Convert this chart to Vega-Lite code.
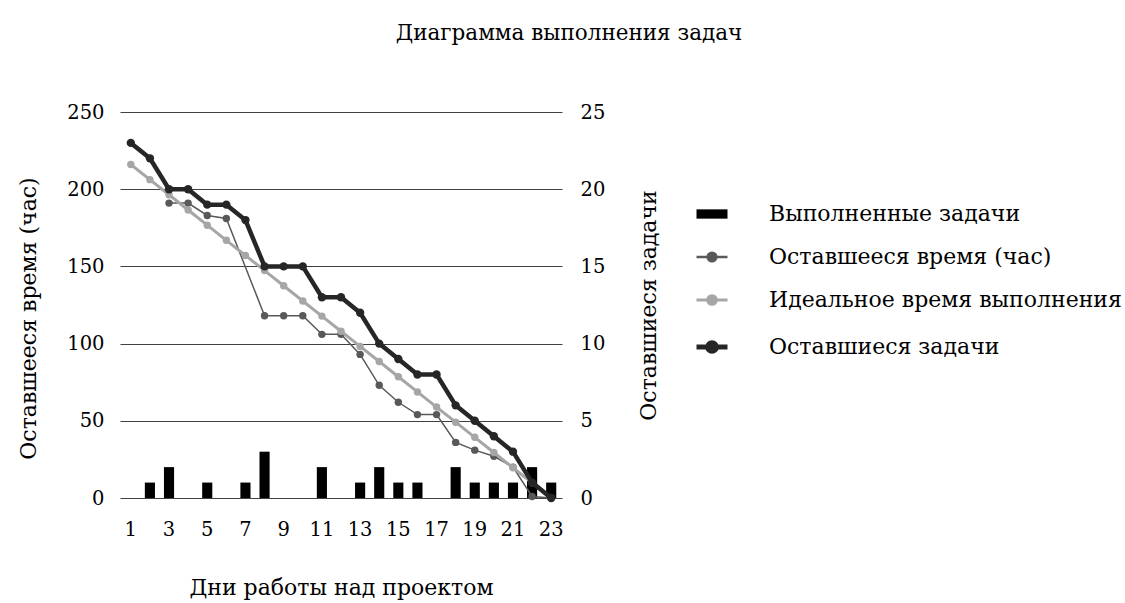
{
  "$schema": "https://vega.github.io/schema/vega-lite/v6.json",
  "width": 442,
  "height": 386,
  "autosize": {"type": "none"},
  "padding": {"left": 120, "top": 112, "right": 563, "bottom": 105},
  "background": "white",
  "config": {
    "font": "DejaVu Serif",
    "view": {"stroke": null},
    "axis": {"labelFont": "DejaVu Serif", "titleFont": "DejaVu Serif", "labelColor": "black", "titleColor": "black", "labelFontSize": 19.5, "titleFontSize": 22, "titleFontWeight": "normal", "ticks": false, "domain": false},
    "legend": {"labelFont": "DejaVu Serif"},
    "title": {"font": "DejaVu Serif"}
  },
  "title": {"text": "Диаграмма выполнения задач", "fontSize": 21.5, "fontWeight": "normal", "anchor": "middle", "frame": "group", "dx": 228, "offset": 58, "color": "black"},
  "data": {"values": [
    {"day": 2, "series": "Выполненные задачи", "value": 1},
    {"day": 3, "series": "Выполненные задачи", "value": 2},
    {"day": 5, "series": "Выполненные задачи", "value": 1},
    {"day": 7, "series": "Выполненные задачи", "value": 1},
    {"day": 8, "series": "Выполненные задачи", "value": 3},
    {"day": 11, "series": "Выполненные задачи", "value": 2},
    {"day": 13, "series": "Выполненные задачи", "value": 1},
    {"day": 14, "series": "Выполненные задачи", "value": 2},
    {"day": 15, "series": "Выполненные задачи", "value": 1},
    {"day": 16, "series": "Выполненные задачи", "value": 1},
    {"day": 18, "series": "Выполненные задачи", "value": 2},
    {"day": 19, "series": "Выполненные задачи", "value": 1},
    {"day": 20, "series": "Выполненные задачи", "value": 1},
    {"day": 21, "series": "Выполненные задачи", "value": 1},
    {"day": 22, "series": "Выполненные задачи", "value": 2},
    {"day": 23, "series": "Выполненные задачи", "value": 1},

    {"day": 3, "series": "Оставшееся время (час)", "value": 191},
    {"day": 4, "series": "Оставшееся время (час)", "value": 191},
    {"day": 5, "series": "Оставшееся время (час)", "value": 183},
    {"day": 6, "series": "Оставшееся время (час)", "value": 181},
    {"day": 8, "series": "Оставшееся время (час)", "value": 118},
    {"day": 9, "series": "Оставшееся время (час)", "value": 118},
    {"day": 10, "series": "Оставшееся время (час)", "value": 118},
    {"day": 11, "series": "Оставшееся время (час)", "value": 106},
    {"day": 12, "series": "Оставшееся время (час)", "value": 106},
    {"day": 13, "series": "Оставшееся время (час)", "value": 93},
    {"day": 14, "series": "Оставшееся время (час)", "value": 73},
    {"day": 15, "series": "Оставшееся время (час)", "value": 62},
    {"day": 16, "series": "Оставшееся время (час)", "value": 54},
    {"day": 17, "series": "Оставшееся время (час)", "value": 54},
    {"day": 18, "series": "Оставшееся время (час)", "value": 36},
    {"day": 19, "series": "Оставшееся время (час)", "value": 31},
    {"day": 20, "series": "Оставшееся время (час)", "value": 27},
    {"day": 21, "series": "Оставшееся время (час)", "value": 20},
    {"day": 22, "series": "Оставшееся время (час)", "value": 1},
    {"day": 23, "series": "Оставшееся время (час)", "value": 0},

    {"day": 1, "series": "Идеальное время выполнения", "value": 216},
    {"day": 2, "series": "Идеальное время выполнения", "value": 206.2},
    {"day": 3, "series": "Идеальное время выполнения", "value": 196.4},
    {"day": 4, "series": "Идеальное время выполнения", "value": 186.5},
    {"day": 5, "series": "Идеальное время выполнения", "value": 176.7},
    {"day": 6, "series": "Идеальное время выполнения", "value": 166.9},
    {"day": 7, "series": "Идеальное время выполнения", "value": 157.1},
    {"day": 8, "series": "Идеальное время выполнения", "value": 147.3},
    {"day": 9, "series": "Идеальное время выполнения", "value": 137.5},
    {"day": 10, "series": "Идеальное время выполнения", "value": 127.6},
    {"day": 11, "series": "Идеальное время выполнения", "value": 117.8},
    {"day": 12, "series": "Идеальное время выполнения", "value": 108},
    {"day": 13, "series": "Идеальное время выполнения", "value": 98.2},
    {"day": 14, "series": "Идеальное время выполнения", "value": 88.4},
    {"day": 15, "series": "Идеальное время выполнения", "value": 78.5},
    {"day": 16, "series": "Идеальное время выполнения", "value": 68.7},
    {"day": 17, "series": "Идеальное время выполнения", "value": 58.9},
    {"day": 18, "series": "Идеальное время выполнения", "value": 49.1},
    {"day": 19, "series": "Идеальное время выполнения", "value": 39.3},
    {"day": 20, "series": "Идеальное время выполнения", "value": 29.5},
    {"day": 21, "series": "Идеальное время выполнения", "value": 19.6},
    {"day": 22, "series": "Идеальное время выполнения", "value": 9.8},
    {"day": 23, "series": "Идеальное время выполнения", "value": 0},

    {"day": 1, "series": "Оставшиеся задачи", "value": 23},
    {"day": 2, "series": "Оставшиеся задачи", "value": 22},
    {"day": 3, "series": "Оставшиеся задачи", "value": 20},
    {"day": 4, "series": "Оставшиеся задачи", "value": 20},
    {"day": 5, "series": "Оставшиеся задачи", "value": 19},
    {"day": 6, "series": "Оставшиеся задачи", "value": 19},
    {"day": 7, "series": "Оставшиеся задачи", "value": 18},
    {"day": 8, "series": "Оставшиеся задачи", "value": 15},
    {"day": 9, "series": "Оставшиеся задачи", "value": 15},
    {"day": 10, "series": "Оставшиеся задачи", "value": 15},
    {"day": 11, "series": "Оставшиеся задачи", "value": 13},
    {"day": 12, "series": "Оставшиеся задачи", "value": 13},
    {"day": 13, "series": "Оставшиеся задачи", "value": 12},
    {"day": 14, "series": "Оставшиеся задачи", "value": 10},
    {"day": 15, "series": "Оставшиеся задачи", "value": 9},
    {"day": 16, "series": "Оставшиеся задачи", "value": 8},
    {"day": 17, "series": "Оставшиеся задачи", "value": 8},
    {"day": 18, "series": "Оставшиеся задачи", "value": 6},
    {"day": 19, "series": "Оставшиеся задачи", "value": 5},
    {"day": 20, "series": "Оставшиеся задачи", "value": 4},
    {"day": 21, "series": "Оставшиеся задачи", "value": 3},
    {"day": 22, "series": "Оставшиеся задачи", "value": 1},
    {"day": 23, "series": "Оставшиеся задачи", "value": 0}
  ]},
  "encoding": {
    "x": {
      "field": "day", "type": "ordinal",
      "scale": {"domain": [1,2,3,4,5,6,7,8,9,10,11,12,13,14,15,16,17,18,19,20,21,22,23], "paddingInner": 0.47, "paddingOuter": 0.3},
      "axis": {"title": "Дни работы над проектом", "titleFontSize": 22, "labelAngle": 0, "labelExpr": "datum.value % 2 == 1 ? datum.label : ''", "grid": false, "labelPadding": 22, "titlePadding": 39}
    },
    "color": {
      "field": "series", "type": "nominal",
      "scale": {"domain": ["Выполненные задачи", "Оставшееся время (час)", "Идеальное время выполнения", "Оставшиеся задачи"], "range": ["#000000", "#595959", "#a6a6a6", "#262626"]},
      "legend": {
        "orient": "none", "legendX": 581, "legendY": 91, "title": null,
        "labelFontSize": 22, "labelColor": "black", "labelLimit": 500,
        "symbolSize": 961, "labelOffset": 46, "rowPadding": 21,
        "encode": {"symbols": {"update": {
          "shape": {"signal": "datum.value === 'Выполненные задачи' ? 'M-1,-0.3L1,-0.3L1,0.3L-1,0.3Z' : 'M-1,0L1,0M-0.28,0A0.28,0.28 0 1 0 0.28,0A0.28,0.28 0 1 0 -0.28,0Z'"},
          "fill": {"signal": "datum.value === 'Выполненные задачи' ? '#000000' : datum.value === 'Оставшееся время (час)' ? '#595959' : datum.value === 'Идеальное время выполнения' ? '#a6a6a6' : '#262626'"},
          "stroke": {"signal": "datum.value === 'Выполненные задачи' ? '#000000' : datum.value === 'Оставшееся время (час)' ? '#595959' : datum.value === 'Идеальное время выполнения' ? '#a6a6a6' : '#262626'"},
          "strokeWidth": {"signal": "datum.value === 'Выполненные задачи' ? 0 : datum.value === 'Оставшееся время (час)' ? 2.5 : datum.value === 'Идеальное время выполнения' ? 3 : 5"},
          "opacity": {"value": 1},
          "fillOpacity": {"value": 1},
          "strokeOpacity": {"value": 1}
        }}}
      }
    }
  },
  "layer": [
    {
      "transform": [{"filter": "datum.series === 'Выполненные задачи'"}],
      "mark": {"type": "bar"},
      "encoding": {
        "y": {"field": "value", "type": "quantitative", "scale": {"domain": [0, 25]},
          "axis": {"orient": "right", "values": [0, 5, 10, 15, 20, 25], "grid": false, "title": "Оставшиеся задачи", "titleAngle": -90, "titleBaseline": "middle", "titleX": 86, "titleY": 193, "labelPadding": 18}}
      }
    },
    {
      "transform": [{"filter": "datum.series === 'Оставшееся время (час)'"}],
      "mark": {"type": "line", "strokeWidth": 1.5, "point": {"filled": true, "size": 55}},
      "encoding": {
        "y": {"field": "value", "type": "quantitative", "scale": {"domain": [0, 250]},
          "axis": {"orient": "left", "values": [0, 50, 100, 150, 200, 250], "grid": true, "gridColor": "#404040", "gridWidth": 1, "gridOpacity": 1, "title": "Оставшееся время (час)", "titleAngle": -90, "titleBaseline": "middle", "titleX": -92, "titleY": 206, "labelPadding": 16}}
      }
    },
    {
      "transform": [{"filter": "datum.series === 'Идеальное время выполнения'"}],
      "mark": {"type": "line", "strokeWidth": 3, "point": {"filled": true, "size": 55}},
      "encoding": {
        "y": {"field": "value", "type": "quantitative", "scale": {"domain": [0, 250]}, "axis": null}
      }
    },
    {
      "transform": [{"filter": "datum.series === 'Оставшиеся задачи'"}],
      "mark": {"type": "line", "strokeWidth": 4.5, "point": {"filled": true, "size": 70}},
      "encoding": {
        "y": {"field": "value", "type": "quantitative", "scale": {"domain": [0, 25]}, "axis": null}
      }
    }
  ],
  "resolve": {"scale": {"y": "independent"}}
}
